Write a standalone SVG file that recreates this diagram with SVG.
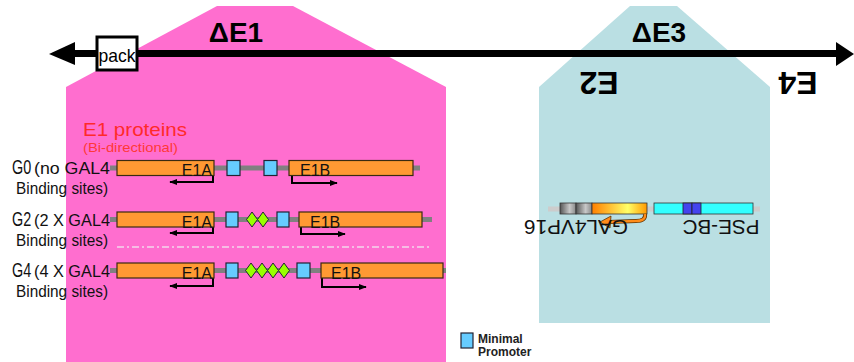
<svg xmlns="http://www.w3.org/2000/svg" width="854" height="362" viewBox="0 0 854 362">
<style>
text{font-family:"Liberation Sans",Arial,sans-serif;}
.big{font-size:28px;font-weight:bold;fill:#000;}
.gl{fill:#111;}
.orange{fill:#FF9933;stroke:#3a2a10;stroke-width:1.2;}
.prom{fill:#66CCFF;stroke:#223;stroke-width:1.2;}
.dia{fill:#99FF00;stroke:#223;stroke-width:1;}
.gline{stroke:#808080;stroke-width:5;}
.arr{fill:none;stroke:#000;stroke-width:2;}
.lbl{font-size:16px;fill:#111;}
</style>
<defs>
<marker id="ah" viewBox="0 0 10 10" refX="9" refY="5" markerWidth="4" markerHeight="4" orient="auto" markerUnits="strokeWidth">
<path d="M0,1 L10,5 L0,9 z" fill="#000"/>
</marker>
<linearGradient id="gray" x1="0" x2="1" y1="0" y2="0">
<stop offset="0" stop-color="#555"/>
<stop offset="0.6" stop-color="#c8c8c8"/>
<stop offset="1" stop-color="#888"/>
</linearGradient>
<linearGradient id="oy" x1="0" x2="1" y1="0" y2="0">
<stop offset="0" stop-color="#FF8000"/>
<stop offset="0.65" stop-color="#FFFF66"/>
<stop offset="1" stop-color="#FF9900"/>
</linearGradient>
</defs>

<g id="regions">
<polygon id="deltaE1-region" points="66,87 217,6 293,6 446,87 446,362 66,362" fill="#FF6ECF"/>
<polygon id="deltaE3-region" points="630,6 677,6 770,87 770,323 539,323 539,87" fill="#BADFE3"/>
</g>

<g id="connectors">
<line x1="70" y1="53.5" x2="840" y2="53.5" stroke="#000" stroke-width="7"/>
<polygon points="49,54 75,42 75,65" fill="#000"/>
<polygon points="854,54 836,42 836,66" fill="#000"/>
<path class="arr" d="M213,175 V182 H170" marker-end="url(#ah)"/>
<path class="arr" d="M292,175 V183 H337" marker-end="url(#ah)"/>
<path class="arr" d="M213,227 V233 H170" marker-end="url(#ah)"/>
<path class="arr" d="M301,227 V234 H345" marker-end="url(#ah)"/>
<path class="arr" d="M213,278 V286 H170" marker-end="url(#ah)"/>
<path class="arr" d="M322,278 V287 H366" marker-end="url(#ah)"/>
<line x1="117" y1="247" x2="430" y2="247" stroke="#f4d8ec" stroke-width="1.5" stroke-dasharray="7,3,2,3"/>
</g>

<g id="pack">
<rect x="97" y="37" width="40" height="33" fill="#fff" stroke="#000" stroke-width="3"/>
<text x="117" y="62" font-size="19" text-anchor="middle" textLength="37" lengthAdjust="spacingAndGlyphs">pack</text>
</g>

<g id="labels-top">
<text class="big" x="236" y="42" text-anchor="middle">ΔE1</text>
<text class="big" x="659" y="42" text-anchor="middle">ΔE3</text>
<text class="big" x="599" y="95" text-anchor="middle" transform="rotate(180 599 83.5)" style="font-size:32px">E2</text>
<text class="big" x="798" y="95" text-anchor="middle" transform="rotate(180 798 83.5)" style="font-size:32px">E4</text>
</g>

<g id="e1-title">
<text x="83" y="136" font-size="19" fill="#FF2A2A" textLength="104" lengthAdjust="spacingAndGlyphs">E1 proteins</text>
<text x="83" y="152" font-size="13" fill="#FF3838" textLength="95" lengthAdjust="spacingAndGlyphs">(Bi-directional)</text>
</g>

<g id="G0">
<text class="gl" transform="translate(12,174) scale(0.72,1)" font-size="20">G0</text>
<text class="gl" x="34" y="174" font-size="17" textLength="76" lengthAdjust="spacingAndGlyphs">(no GAL4</text>
<text class="gl" x="16" y="194" font-size="16" textLength="92" lengthAdjust="spacingAndGlyphs">Binding sites)</text>
<line class="gline" x1="110" y1="168" x2="420" y2="168"/>
<rect class="orange" x="117" y="160.5" width="97" height="15"/>
<text class="lbl" x="212" y="176" text-anchor="end">E1A</text>
<rect class="prom" x="227" y="160.5" width="13" height="15"/>
<rect class="prom" x="264" y="160.5" width="13" height="15"/>
<rect class="orange" x="289" y="160.5" width="124" height="15"/>
<text class="lbl" x="300" y="176">E1B</text>
</g>

<g id="G2">
<text class="gl" transform="translate(12,226) scale(0.72,1)" font-size="20">G2</text>
<text class="gl" x="34" y="226" font-size="17" textLength="76" lengthAdjust="spacingAndGlyphs">(2 X GAL4</text>
<text class="gl" x="16" y="246" font-size="16" textLength="92" lengthAdjust="spacingAndGlyphs">Binding sites)</text>
<line class="gline" x1="110" y1="219.5" x2="432" y2="219.5"/>
<rect class="orange" x="117" y="212" width="97" height="15"/>
<text class="lbl" x="212" y="227.5" text-anchor="end">E1A</text>
<rect class="prom" x="226" y="212" width="12" height="15"/>
<polygon class="dia" points="252,212 257.5,219.5 252,227 246.5,219.5"/>
<polygon class="dia" points="263,212 268.5,219.5 263,227 257.5,219.5"/>
<rect class="prom" x="277" y="212" width="12" height="15"/>
<rect class="orange" x="299" y="212" width="123" height="15"/>
<text class="lbl" x="310" y="227.5">E1B</text>
</g>

<g id="G4">
<text class="gl" transform="translate(12,277) scale(0.72,1)" font-size="20">G4</text>
<text class="gl" x="34" y="277" font-size="17" textLength="76" lengthAdjust="spacingAndGlyphs">(4 X GAL4</text>
<text class="gl" x="16" y="297" font-size="16" textLength="92" lengthAdjust="spacingAndGlyphs">Binding sites)</text>
<line class="gline" x1="110" y1="270.5" x2="446" y2="270.5"/>
<rect class="orange" x="117" y="263" width="97" height="15"/>
<text class="lbl" x="212" y="278.5" text-anchor="end">E1A</text>
<rect class="prom" x="226" y="263" width="12" height="15"/>
<polygon class="dia" points="251,263 256.5,270.5 251,278 245.5,270.5"/>
<polygon class="dia" points="262,263 267.5,270.5 262,278 256.5,270.5"/>
<polygon class="dia" points="273,263 278.5,270.5 273,278 267.5,270.5"/>
<polygon class="dia" points="284,263 289.5,270.5 284,278 278.5,270.5"/>
<rect class="prom" x="297" y="263" width="13" height="15"/>
<rect class="orange" x="321" y="263" width="122" height="15"/>
<text class="lbl" x="331" y="278.5">E1B</text>
</g>

<g id="E3-construct">
<line x1="548" y1="209" x2="760" y2="209" stroke="#cccccc" stroke-width="5"/>
<rect x="560" y="203" width="16" height="11" fill="url(#gray)" stroke="#333" stroke-width="0.8"/>
<rect x="576" y="203" width="16" height="11" fill="url(#gray)" stroke="#333" stroke-width="0.8"/>
<rect x="592" y="203" width="55" height="11" fill="url(#oy)" stroke="#333" stroke-width="0.8"/>
<rect x="654" y="203" width="99" height="11" fill="#33FFFF" stroke="#333" stroke-width="0.8"/>
<rect x="683" y="203" width="9" height="11" fill="#4444EE" stroke="#222" stroke-width="0.8"/>
<rect x="692" y="203" width="9" height="11" fill="#4444EE" stroke="#222" stroke-width="0.8"/>
<path d="M645,214 Q646,221 636,221 L609,222" fill="none" stroke="#5a3000" stroke-width="4"/>
<path d="M645,214 Q646,221 636,221 L609,222" fill="none" stroke="#FF8C1A" stroke-width="2.4"/>
<polygon points="600,222 611,216 610,228" fill="#FF8C1A" stroke="#5a3000" stroke-width="0.8"/>
<text x="576" y="234.5" font-size="21" fill="#111" text-anchor="middle" transform="rotate(180 576 227)" textLength="104" lengthAdjust="spacingAndGlyphs">GAL4VP16</text>
<text x="721" y="234.5" font-size="21" fill="#111" text-anchor="middle" transform="rotate(180 721 227)" textLength="77" lengthAdjust="spacingAndGlyphs">PSE-BC</text>
</g>

<g id="legend">
<rect class="prom" x="461" y="333" width="12" height="15"/>
<text x="478" y="343" font-size="12" font-weight="bold" fill="#222">Minimal</text>
<text x="478" y="356" font-size="12" font-weight="bold" fill="#222">Promoter</text>
</g>
</svg>
